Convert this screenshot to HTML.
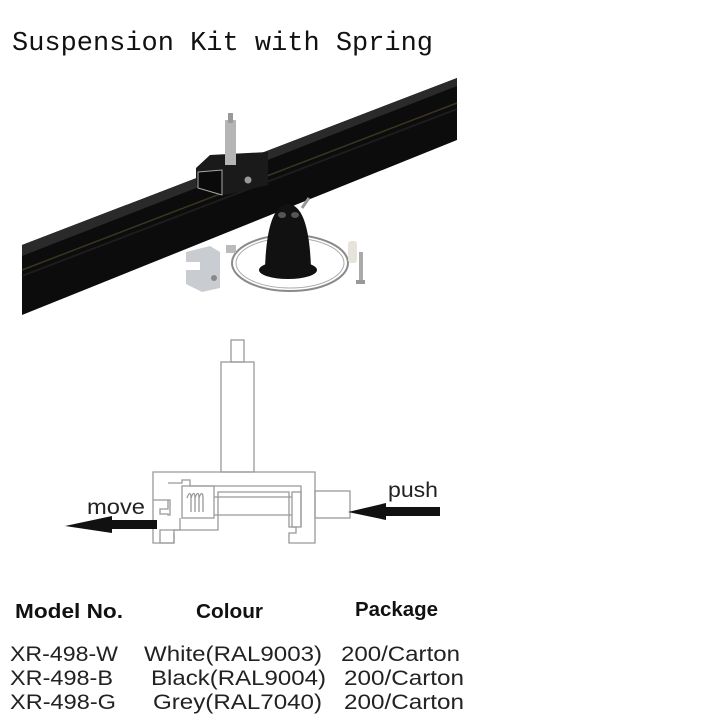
<!DOCTYPE html>
<html><head><meta charset="utf-8"><style>
html,body{margin:0;padding:0;background:#fff;}
svg{display:block;}
</style></head><body>
<svg width="720" height="720" viewBox="0 0 720 720" xmlns="http://www.w3.org/2000/svg">
<rect width="720" height="720" fill="#fff"/>
<text x="12" y="50" font-family="Liberation Mono, monospace" font-size="27" fill="#111" textLength="421" lengthAdjust="spacingAndGlyphs">Suspension Kit with Spring</text>

<!-- rail -->
<polygon points="22,245 457,78 457,140 22,315" fill="#0c0c0c"/>
<polygon points="22,245 457,78 457,86 22,256" fill="#2a2a2a"/>
<line x1="22" y1="270" x2="457" y2="103" stroke="#3a3520" stroke-width="1.5"/>
<line x1="22" y1="276" x2="457" y2="109" stroke="#1d1d1d" stroke-width="2"/>
<!-- bracket -->
<polygon points="196,168 210,155 268,152 268,185 225,195 196,185" fill="#1a1a1a"/>
<polygon points="198,172 222,170 222,195 198,188" fill="#0a0a0a" stroke="#aaa" stroke-width="1"/>
<circle cx="248" cy="180" r="3.5" fill="#999"/>
<rect x="225" y="120" width="11" height="45" fill="#b5b5b5"/>
<rect x="228" y="113" width="5" height="10" fill="#999"/>
<!-- wire -->
<ellipse cx="290" cy="263" rx="58" ry="28" fill="none" stroke="#8a8a8a" stroke-width="2"/>
<ellipse cx="290" cy="263" rx="54" ry="25" fill="none" stroke="#aaa" stroke-width="1"/>
<!-- cap -->
<ellipse cx="288" cy="270" rx="29" ry="9" fill="#111"/>
<path d="M265,268 C266,240 270,205 288,204 C306,205 310,240 311,268 Z" fill="#111"/>
<ellipse cx="282" cy="215" rx="4" ry="3" fill="#555"/>
<ellipse cx="295" cy="215" rx="4" ry="3" fill="#555"/>
<line x1="302" y1="208" x2="309" y2="198" stroke="#999" stroke-width="3"/>
<!-- aluminium block -->
<polygon points="186,252 210,246 220,252 220,288 202,292 186,284" fill="#c9ccd0"/>
<rect x="186" y="262" width="14" height="8" fill="#fff"/>
<circle cx="214" cy="278" r="3" fill="#888"/>
<rect x="226" y="245" width="10" height="8" fill="#bbb"/>
<!-- anchor & screw -->
<rect x="348" y="241" width="9" height="22" rx="3" fill="#e6e3dc"/>
<rect x="359" y="252" width="4" height="30" fill="#aaa"/>
<rect x="356" y="280" width="9" height="4" fill="#999"/>

<!-- diagram -->
<g fill="none" stroke="#999" stroke-width="1.3">
<rect x="231" y="340" width="13" height="22"/>
<rect x="221" y="362" width="33" height="110"/>
<path d="M153,472 H315 V543 H289 V533 H296 V527 H289 V492 H218 V515 H218 V530 H174 V543 H153 Z"/>
<rect x="315" y="491" width="35" height="27"/>
<path d="M168,483 H182 V480 H190 V486 H301 V527"/>
<path d="M153,500 H170 V515 H168 V514 H160 V509 H168 V500"/>
<rect x="182" y="486" width="32" height="32"/>
<line x1="214" y1="497" x2="292" y2="497"/>
<line x1="214" y1="515" x2="292" y2="515"/>
<path d="M180,518 V530 H160 V543 H174 V533"/>
<path d="M187,498 c2,-6 4,-6 4,0 v14 m0,-14 c2,-6 4,-6 4,0 v14 m0,-14 c2,-6 4,-6 4,0 v14 m0,-14 c2,-6 4,-6 4,0 v14"/>
<rect x="292" y="492" width="9" height="35"/>
</g>
<!-- arrows -->
<polygon points="157,520 112,520 112,516 65,526 112,533 112,529 157,529" fill="#111"/>
<polygon points="440,507 386,507 386,503 348,512 386,520 386,516 440,516" fill="#111"/>
<text x="87" y="514" font-family="Liberation Sans, sans-serif" font-size="21" fill="#222" textLength="58" lengthAdjust="spacingAndGlyphs">move</text>
<text x="388" y="497" font-family="Liberation Sans, sans-serif" font-size="21" fill="#222" textLength="50" lengthAdjust="spacingAndGlyphs">push</text>

<!-- table -->
<g font-family="Liberation Sans, sans-serif" font-weight="bold" font-size="20" fill="#111" lengthAdjust="spacingAndGlyphs">
<text x="15" y="618" textLength="108" lengthAdjust="spacingAndGlyphs">Model No.</text>
<text x="196" y="618" textLength="67" lengthAdjust="spacingAndGlyphs">Colour</text>
<text x="355" y="616" textLength="83" lengthAdjust="spacingAndGlyphs">Package</text>
</g>
<g font-family="Liberation Sans, sans-serif" font-size="21" fill="#222">
<text x="10" y="661" textLength="108" lengthAdjust="spacingAndGlyphs">XR-498-W</text>
<text x="144" y="661" textLength="178" lengthAdjust="spacingAndGlyphs">White(RAL9003)</text>
<text x="341" y="661" textLength="119" lengthAdjust="spacingAndGlyphs">200/Carton</text>
<text x="10" y="685" textLength="103" lengthAdjust="spacingAndGlyphs">XR-498-B</text>
<text x="151" y="685" textLength="175" lengthAdjust="spacingAndGlyphs">Black(RAL9004)</text>
<text x="344" y="685" textLength="120" lengthAdjust="spacingAndGlyphs">200/Carton</text>
<text x="10" y="709" textLength="106" lengthAdjust="spacingAndGlyphs">XR-498-G</text>
<text x="153" y="709" textLength="169" lengthAdjust="spacingAndGlyphs">Grey(RAL7040)</text>
<text x="344" y="709" textLength="120" lengthAdjust="spacingAndGlyphs">200/Carton</text>
</g>
</svg>
</body></html>
